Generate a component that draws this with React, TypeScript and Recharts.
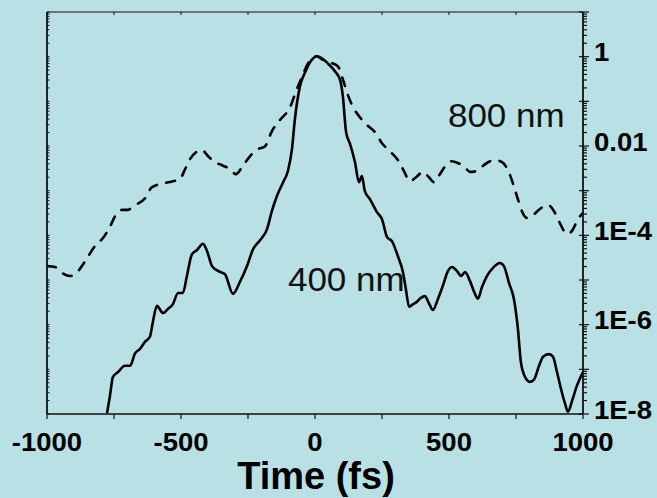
import React from 'react';
import { LineChart, Line, XAxis, YAxis, ReferenceDot } from 'recharts';

// 800 nm pulse: delay (fs) and log10 of normalised intensity
const t800 = [
  -1000, -970, -944, -914, -884, -858, -821, -791, -765, -746, -720, -698, -679, -634, -608, -560,
  -530, -504, -485, -466, -444, -422, -399, -373, -347, -317, -295, -272, -243, -213, -187, -161,
  -131, -93, -71, -49, -26, -8, 7, 26, 56, 86, 104, 123, 142, 168, 194, 224, 250, 280, 310, 332,
  354, 377, 403, 425, 444, 466, 489, 511, 533, 559, 578, 604, 630, 653, 675, 698, 720, 742, 757,
  772, 791, 813, 839, 869, 892, 910, 929, 944, 959, 981, 1000,
];
const e800 = [
  -4.69, -4.71, -4.84, -4.91, -4.8, -4.58, -4.24, -4.06, -3.81, -3.57, -3.43, -3.43, -3.35, -3.17,
  -2.92, -2.83, -2.79, -2.74, -2.52, -2.29, -2.14, -2.09, -2.23, -2.36, -2.43, -2.52, -2.63, -2.47,
  -2.23, -2.07, -2.01, -1.67, -1.42, -1.13, -0.78, -0.46, -0.15, -0.02, 0.01, -0.06, -0.13, -0.22,
  -0.51, -0.86, -1.13, -1.36, -1.53, -1.69, -1.94, -2.12, -2.32, -2.56, -2.79, -2.7, -2.58, -2.7,
  -2.81, -2.63, -2.43, -2.34, -2.38, -2.47, -2.58, -2.56, -2.43, -2.34, -2.32, -2.36, -2.54, -2.9,
  -3.19, -3.46, -3.61, -3.55, -3.41, -3.32, -3.46, -3.68, -3.9, -3.97, -3.9, -3.64, -3.5,
];

// 400 nm pulse: delay (fs) and log10 of normalised intensity
const t400 = [
  -776, -765, -754, -735, -709, -690, -672, -653, -634, -616, -605, -590, -567, -549, -530, -511,
  -493, -478, -459, -440, -418, -403, -384, -354, -336, -306, -280, -254, -231, -205, -179, -161,
  -142, -119, -101, -86, -75, -56, -37, -19, 7, 26, 48, 75, 93, 104, 116, 131, 149, 164, 175, 186,
  205, 231, 250, 269, 287, 310, 328, 339, 351, 366, 380, 395, 410, 425, 440, 459, 477, 496, 511,
  530, 545, 560, 578, 597, 608, 623, 642, 664, 690, 705, 724, 742, 757, 768, 780, 802, 817, 836,
  851, 873, 888, 903, 918, 933, 944, 959, 977, 1000,
];
const e400 = [
  -7.98, -7.59, -7.17, -7.06, -6.92, -6.92, -6.65, -6.54, -6.38, -6.27, -5.94, -5.58, -5.74, -5.65,
  -5.54, -5.29, -5.29, -4.91, -4.42, -4.33, -4.19, -4.35, -4.69, -4.82, -4.87, -5.31, -5.04, -4.69,
  -4.31, -4.11, -3.86, -3.46, -3.12, -2.81, -2.56, -2.07, -1.4, -0.66, -0.35, -0.13, 0.01, -0.04,
  -0.15, -0.33, -0.51, -0.89, -1.69, -1.96, -2.36, -2.81, -2.67, -3.01, -3.19, -3.48, -3.64, -4.04,
  -4.13, -4.48, -4.82, -5.2, -5.6, -5.54, -5.49, -5.4, -5.36, -5.52, -5.67, -5.42, -5.13, -4.8,
  -4.71, -4.8, -4.91, -4.82, -5.02, -5.31, -5.42, -5.16, -4.91, -4.73, -4.62, -4.69, -5.07, -5.42,
  -6.09, -6.83, -7.12, -7.28, -7.23, -6.92, -6.72, -6.66, -6.72, -7.06, -7.44, -7.77, -7.95, -7.71,
  -7.37, -7.06,
];

const xTickValues = [-1000, -750, -500, -250, 0, 250, 500, 750, 1000];
const xTickLabels = ['-1000', '', '-500', '', '0', '', '500', '', '1000'];
const yLabelValues = [1e-8, 1e-6, 1e-4, 1e-2, 1];
const yLabelTexts = ['1E-8', '1E-6', '1E-4', '0.01', '1'];
const seriesNames = ['800 nm', '400 nm'];

const data800 = t800.map((t, i) => ({ t, v: Math.pow(10, e800[i]) }));
const data400 = t400.map((t, i) => ({ t, v: Math.pow(10, e400[i]) }));

// log-axis tick marks: every integer multiple within each decade
const decades = [-8, -7, -6, -5, -4, -3, -2, -1, 0];
const yTicks = decades
  .flatMap((d) => [1, 2, 3, 4, 5, 6, 7, 8, 9].map((k) => k * Math.pow(10, d)))
  .concat([10]);

const INK = '#111';
const FONT = '"Liberation Sans", Arial, Helvetica, sans-serif';

const isDecade = (v: number) => {
  const l = Math.log10(v);
  return Math.abs(l - Math.round(l)) < 1e-6;
};
const yLabelFor = (v: number) => {
  const i = yLabelValues.findIndex((lv) => Math.abs(Math.log10(lv) - Math.log10(v)) < 1e-6);
  return i >= 0 ? yLabelTexts[i] : null;
};

const RightTick = (p: any) => {
  const { x, y, payload } = p;
  const major = isDecade(payload.value);
  const label = yLabelFor(payload.value);
  return (
    <g>
      <line x1={x - (major ? 4 : 0)} x2={x + (major ? 6 : 4)} y1={y} y2={y} stroke={INK} strokeWidth={1.2} />
      {label && (
        <text
          transform={`translate(${x + 11},${y + 4.5}) scale(1.1,1)`}
          fontSize={25}
          fontWeight="bold"
          fontFamily={FONT}
          fill="#000"
          textAnchor="start"
        >
          {label}
        </text>
      )}
    </g>
  );
};

const LeftTick = (p: any) => {
  const { x, y } = p;
  return <line x1={x} x2={x + 2.5} y1={y} y2={y} stroke={INK} strokeWidth={1} />;
};

const BottomTick = (p: any) => {
  const { x, y, payload } = p;
  const i = xTickValues.indexOf(payload.value);
  const label = i >= 0 ? xTickLabels[i] : '';
  return (
    <g>
      <line x1={x} x2={x} y1={y} y2={y + 5} stroke={INK} strokeWidth={1.2} />
      {label && (
        <text
          transform={`translate(${x},${y + 37}) scale(1.1,1)`}
          fontSize={25}
          fontWeight="bold"
          fontFamily={FONT}
          fill="#000"
          textAnchor="middle"
        >
          {label}
        </text>
      )}
    </g>
  );
};

const TopTick = (p: any) => {
  const { x, y } = p;
  return <line x1={x} x2={x} y1={y} y2={y + 3} stroke={INK} strokeWidth={1} />;
};

const seriesLabel = (text: string) => (p: any) => (
  <text
    transform={`translate(${p.cx},${p.cy}) scale(1.03,1)`}
    fontSize={34}
    fontFamily={FONT}
    fill="#111"
    textAnchor="start"
  >
    {text}
  </text>
);

export default function App() {
  return (
    <div style={{ position: 'absolute', left: 0, top: 0, width: 657, height: 498, background: '#b9e0e4' }}>
      <LineChart width={657} height={498} margin={{ top: 0, right: 0, bottom: 0, left: 0 }}>
        <XAxis
          xAxisId="b"
          type="number"
          dataKey="t"
          domain={[-1000, 1000]}
          ticks={xTickValues}
          interval={0}
          allowDataOverflow
          height={84}
          tickSize={0}
          tickMargin={0}
          tickLine={false}
          axisLine={{ stroke: INK, strokeWidth: 1.6 }}
          tick={(p: any) => <BottomTick {...p} />}
          label={(p: any) => {
            const vb = p.viewBox || { x: 47, width: 536, y: 414 };
            return (
              <text
                x={vb.x + vb.width / 2 + 1}
                y={vb.y + 75}
                fontSize={38}
                fontWeight="bold"
                fontFamily={FONT}
                fill="#000"
                textAnchor="middle"
              >
                Time (fs)
              </text>
            );
          }}
        />
        <XAxis
          xAxisId="top"
          orientation="top"
          type="number"
          dataKey="t"
          domain={[-1000, 1000]}
          ticks={xTickValues}
          interval={0}
          allowDataOverflow
          height={12}
          tickSize={0}
          tickMargin={0}
          tickLine={false}
          axisLine={{ stroke: INK, strokeWidth: 1.2 }}
          tick={(p: any) => <TopTick {...p} />}
        />
        <YAxis
          yAxisId="l"
          orientation="left"
          type="number"
          scale="log"
          domain={[1e-8, 10]}
          ticks={yTicks}
          interval={0}
          allowDataOverflow
          width={47}
          tickSize={0}
          tickMargin={0}
          tickLine={false}
          axisLine={{ stroke: INK, strokeWidth: 1.8 }}
          tick={(p: any) => <LeftTick {...p} />}
        />
        <YAxis
          yAxisId="r"
          orientation="right"
          type="number"
          scale="log"
          domain={[1e-8, 10]}
          ticks={yTicks}
          interval={0}
          allowDataOverflow
          width={74}
          tickSize={0}
          tickMargin={0}
          tickLine={false}
          axisLine={{ stroke: INK, strokeWidth: 1.8 }}
          tick={(p: any) => <RightTick {...p} />}
        />
        <Line
          name={seriesNames[0]}
          data={data800}
          dataKey="v"
          xAxisId="b"
          yAxisId="r"
          type="monotone"
          stroke="#000"
          strokeWidth={2.6}
          strokeDasharray="9 9.5"
          strokeLinecap="round"
          dot={false}
          activeDot={false}
          isAnimationActive={false}
        />
        <Line
          name={seriesNames[1]}
          data={data400}
          dataKey="v"
          xAxisId="b"
          yAxisId="r"
          type="monotone"
          stroke="#000"
          strokeWidth={2.6}
          dot={false}
          activeDot={false}
          isAnimationActive={false}
        />
        <ReferenceDot xAxisId="b" yAxisId="r" x={496} y={0.0263} r={1} shape={seriesLabel(seriesNames[0])} />
        <ReferenceDot xAxisId="b" yAxisId="r" x={-101} y={5.69e-6} r={1} shape={seriesLabel(seriesNames[1])} />
      </LineChart>
    </div>
  );
}
